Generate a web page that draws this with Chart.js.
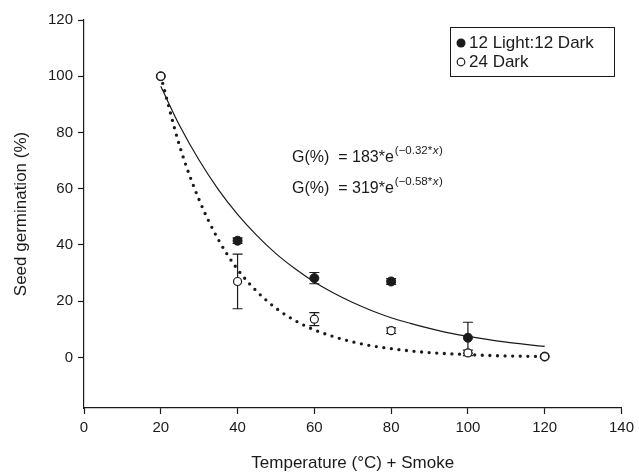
<!DOCTYPE html>
<html>
<head>
<meta charset="utf-8">
<script src="https://cdn.jsdelivr.net/npm/chart.js@4/dist/chart.umd.min.js"></script>
<style>
  html, body { margin: 0; padding: 0; background: #fff; }
  #wrap { width: 639px; height: 475px; }
</style>
</head>
<body>
<div id="wrap"><canvas id="germ-chart" width="639" height="475"></canvas></div>
<script>
// temperature treatments (°C) + smoke
const temps = [20, 40, 60, 80, 100, 120];

// 12 Light:12 Dark (filled circles)
const lightMean = [100, 41.5, 28.2, 27.0, 7.0, 0.3];
const lightErr  = [0, 1.0, 2.0, 1.0, 5.5, 0];

// 24 Dark (open circles)
const darkMean = [100, 27.0, 13.6, 9.5, 1.6, 0.3];
const darkErr  = [0, 9.7, 2.3, 1.0, 1.0, 0];

// fitted curves
const curveT     = [20, 25, 30, 35, 40, 45, 50, 55, 60, 65, 70, 75, 80, 85, 90, 95, 100, 105, 110, 115, 120];
const fitLight   = [96.4, 82.2, 70.1, 59.7, 50.9, 43.4, 36.9, 31.5, 26.8, 22.9, 19.5, 16.6, 14.1, 12.1, 10.3, 8.7, 7.5, 6.4, 5.4, 4.6, 3.9];
const fitDark    = [100, 74.8, 56.0, 41.9, 31.3, 23.5, 17.5, 13.1, 9.8, 7.4, 5.5, 4.1, 3.1, 2.3, 1.7, 1.3, 1.0, 0.7, 0.5, 0.4, 0.3];

const yTicks = [0, 20, 40, 60, 80, 100, 120];

const FONT = '"Liberation Sans", Arial, Helvetica, sans-serif';
const INK = '#1a1a1a';

function pts(xs, ys) {
    return xs.map((x, i) => ({ x: x, y: ys[i] }));
}

// error bars drawn from the mean/err arrays through the scales
const errorBars = {
    id: 'errorBars',
    beforeDatasetsDraw(chart) {
        const { ctx, scales: { x, y } } = chart;
        ctx.save();
        ctx.strokeStyle = INK;
        ctx.lineWidth = 1.2;
        [[lightMean, lightErr], [darkMean, darkErr]].forEach(([m, e]) => {
            temps.forEach((t, i) => {
                if (!e[i]) return;
                const px = x.getPixelForValue(t);
                const top = y.getPixelForValue(m[i] + e[i]);
                const bot = y.getPixelForValue(m[i] - e[i]);
                ctx.beginPath();
                ctx.moveTo(px, top); ctx.lineTo(px, bot);
                ctx.moveTo(px - 5, top); ctx.lineTo(px + 5, top);
                ctx.moveTo(px - 5, bot); ctx.lineTo(px + 5, bot);
                ctx.stroke();
            });
        });
        ctx.restore();
    }
};

// legend box and the two fit equations
const annotations = {
    id: 'annotations',
    afterDraw(chart) {
        const ctx = chart.ctx;
        ctx.save();
        ctx.fillStyle = INK;
        ctx.strokeStyle = INK;

        // legend
        ctx.lineWidth = 1;
        ctx.strokeRect(450.5, 27.5, 164, 49);
        ctx.beginPath();
        ctx.arc(461, 43, 4.5, 0, Math.PI * 2);
        ctx.fill();
        ctx.beginPath();
        ctx.arc(461, 62, 3.8, 0, Math.PI * 2);
        ctx.lineWidth = 1.2;
        ctx.stroke();
        ctx.font = '17px ' + FONT;
        ctx.textBaseline = 'middle';
        ctx.fillText('12 Light:12 Dark', 469, 43);
        ctx.fillText('24 Dark', 469, 62);

        // equations
        const eqs = [['G(%)  = 183*e', '(\u22120.32*', 162], ['G(%)  = 319*e', '(\u22120.58*', 193]];
        ctx.textBaseline = 'alphabetic';
        eqs.forEach(([main, sup, base]) => {
            ctx.font = '16px ' + FONT;
            ctx.fillText(main, 292, base);
            let cx = 292 + ctx.measureText(main).width + 1;
            ctx.font = '11.5px ' + FONT;
            ctx.fillText(sup, cx, base - 8);
            cx += ctx.measureText(sup).width + 0.5;
            ctx.font = 'italic 11.5px ' + FONT;
            ctx.fillText('x', cx, base - 8);
            cx += ctx.measureText('x').width + 0.5;
            ctx.font = '11.5px ' + FONT;
            ctx.fillText(')', cx, base - 8);
        });
        ctx.restore();
    }
};

const ctx1 = document.getElementById('germ-chart');
const chart1 = new Chart(ctx1, {
    type: 'scatter',
    data: {
        datasets: [
            {
                label: '24 Dark',
                data: pts(temps, darkMean),
                showLine: false,
                pointRadius: 4,
                pointBackgroundColor: '#fff',
                pointBorderColor: INK,
                pointBorderWidth: 1.2,
                order: 0
            },
            {
                label: '12 Light:12 Dark',
                data: pts(temps, lightMean),
                showLine: false,
                pointRadius: 4.5,
                pointBackgroundColor: INK,
                pointBorderColor: INK,
                pointBorderWidth: 1,
                order: 1
            },
            {
                label: 'fit light',
                data: pts(curveT, fitLight),
                showLine: true,
                pointRadius: 0,
                borderColor: INK,
                borderWidth: 1.2,
                cubicInterpolationMode: 'monotone',
                order: 2
            },
            {
                label: 'fit dark',
                data: pts(curveT, fitDark),
                showLine: true,
                pointRadius: 0,
                borderColor: INK,
                borderWidth: 3.3,
                borderDash: [0, 7.6],
                borderCapStyle: 'round',
                cubicInterpolationMode: 'monotone',
                order: 3
            }
        ]
    },
    options: {
        responsive: false,
        animation: false,
        layout: { padding: { left: 0, right: 16, top: 20, bottom: 0 } },
        plugins: {
            legend: { display: false },
            tooltip: { enabled: false }
        },
        scales: {
            x: {
                type: 'linear',
                min: 0,
                max: 140,
                ticks: { stepSize: 20, color: INK, font: { family: FONT, size: 15 }, padding: 5 },
                grid: { drawOnChartArea: false, color: INK, tickLength: 6, tickWidth: 1.2 },
                border: { color: INK, width: 1.2 },
                title: {
                    display: true,
                    text: 'Temperature (°C) + Smoke',
                    color: INK,
                    font: { family: FONT, size: 17 },
                    padding: { top: 14, bottom: 1 }
                },
                afterFit(scale) { scale.height = 67; }
            },
            y: {
                type: 'linear',
                min: -18,
                max: 120,
                afterBuildTicks(scale) { scale.ticks = yTicks.map(v => ({ value: v })); },
                ticks: { color: INK, font: { family: FONT, size: 15 }, padding: 5 },
                grid: { drawOnChartArea: false, color: INK, tickLength: 6, tickWidth: 1.2 },
                border: { color: INK, width: 1.2 },
                title: {
                    display: true,
                    text: 'Seed germination (%)',
                    color: INK,
                    font: { family: FONT, size: 17 },
                    padding: { top: 11, bottom: 0 }
                },
                afterFit(scale) { scale.width = 84; }
            }
        }
    },
    plugins: [errorBars, annotations]
});
</script>
</body>
</html>
